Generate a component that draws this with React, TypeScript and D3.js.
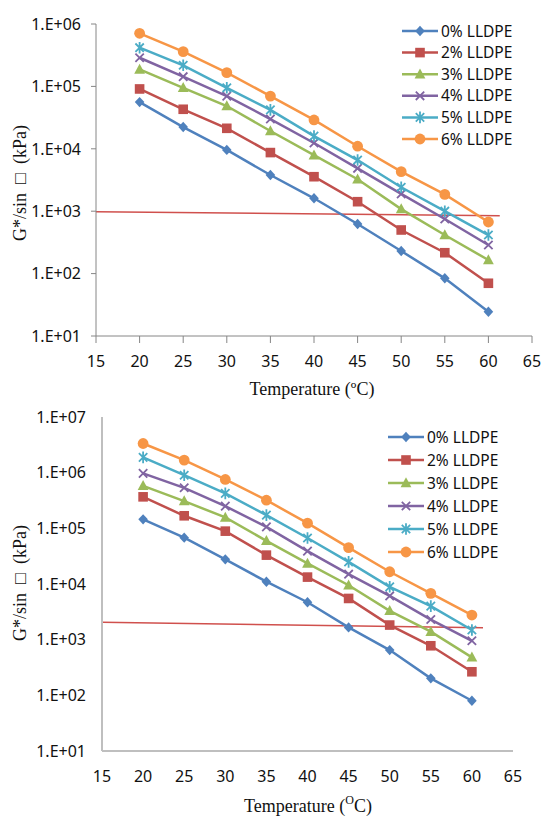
import React from "react";
import * as d3 from "d3";

// ---------- DATA ----------
const temps = [20, 25, 30, 35, 40, 45, 50, 55, 60];
const seriesNames = ["0% LLDPE", "2% LLDPE", "3% LLDPE", "4% LLDPE", "5% LLDPE", "6% LLDPE"];
const seriesColors = ["#4F81BD", "#C0504D", "#9BBB59", "#8064A2", "#4BACC6", "#F79646"];
const seriesMarkers = ["diamond", "square", "triangle", "x", "star", "circle"];

// Top chart (unaged)
const top0 = [5.6e4, 2.23e4, 9.6e3, 3.8e3, 1.61e3, 623, 230, 84, 24.5];
const top2 = [9.1e4, 4.3e4, 2.13e4, 8.7e3, 3.57e3, 1.42e3, 500, 216, 70];
const top3 = [1.87e5, 9.5e4, 4.85e4, 1.93e4, 7.9e3, 3.25e3, 1.08e3, 415, 165];
const top4 = [2.88e5, 1.43e5, 7.0e4, 3.0e4, 1.24e4, 4.87e3, 1.89e3, 750, 287];
const top5 = [4.17e5, 2.18e5, 9.5e4, 4.2e4, 1.6e4, 6.6e3, 2.42e3, 1.0e3, 415];
const top6 = [7.1e5, 3.6e5, 1.66e5, 7.0e4, 2.9e4, 1.1e4, 4.3e3, 1.86e3, 671];
const topLimitX = [15, 61.3];
const topLimitY = [982, 847];
const topYTicks = [1e1, 1e2, 1e3, 1e4, 1e5, 1e6];

// Bottom chart (aged)
const bot0 = [1.45e5, 6.8e4, 2.77e4, 1.1e4, 4.7e3, 1.66e3, 650, 202, 80];
const bot2 = [3.68e5, 1.68e5, 8.9e4, 3.3e4, 1.33e4, 5.5e3, 1.83e3, 777, 265];
const bot3 = [5.8e5, 3.08e5, 1.57e5, 5.97e4, 2.34e4, 9.5e3, 3.3e3, 1.39e3, 481];
const bot4 = [9.7e5, 5.35e5, 2.5e5, 1.06e5, 3.9e4, 1.5e4, 6.1e3, 2.3e3, 955];
const bot5 = [1.88e6, 9.0e5, 4.24e5, 1.73e5, 6.7e4, 2.5e4, 8.9e3, 4.0e3, 1.49e3];
const bot6 = [3.34e6, 1.68e6, 7.55e5, 3.2e5, 1.24e5, 4.5e4, 1.66e4, 6.8e3, 2.77e3];
const botLimitX = [15, 61.35];
const botLimitY = [2.05e3, 1.64e3];
const botYTicks = [1e1, 1e2, 1e3, 1e4, 1e5, 1e6, 1e7];

const xTicks = [15, 20, 25, 30, 35, 40, 45, 50, 55, 60, 65];

const fmtExp = (v: number) => {
  const e = Math.round(Math.log10(v));
  return `1.E+${String(e).padStart(2, "0")}`;
};

function Marker({ type, x, y, color }: { type: string; x: number; y: number; color: string }) {
  switch (type) {
    case "diamond":
      return <path d={`M${x},${y - 5.2}L${x + 4.8},${y}L${x},${y + 5.2}L${x - 4.8},${y}Z`} fill={color} />;
    case "square":
      return <rect x={x - 4.8} y={y - 4.8} width={9.6} height={9.6} fill={color} />;
    case "triangle":
      return <path d={`M${x},${y - 5.8}L${x + 5.4},${y + 4.2}L${x - 5.4},${y + 4.2}Z`} fill={color} />;
    case "x":
      return (
        <path
          d={`M${x - 4.2},${y - 4.2}L${x + 4.2},${y + 4.2}M${x - 4.2},${y + 4.2}L${x + 4.2},${y - 4.2}`}
          stroke={color}
          strokeWidth={1.8}
          fill="none"
        />
      );
    case "star":
      return (
        <path
          d={`M${x - 4.2},${y - 4.2}L${x + 4.2},${y + 4.2}M${x - 4.2},${y + 4.2}L${x + 4.2},${y - 4.2}M${x},${y - 5.8}L${x},${y + 5.8}`}
          stroke={color}
          strokeWidth={1.8}
          fill="none"
        />
      );
    default:
      return <circle cx={x} cy={y} r={5.4} fill={color} />;
  }
}

type ChartProps = {
  series: number[][];
  limitX: number[];
  limitY: number[];
  yTicks: number[];
  x0: number;
  x1: number;
  yTop: number;
  yBot: number;
  axisColor: string;
  axisWidth: number;
  showTicks: boolean;
  yLabelX: number;
  xLabelY: number;
  xTitleY: number;
  xTitleX: number;
  yTitleX: number;
  yTitleY: number;
  legendX0: number;
  legendY0: number;
  legendStep: number;
  supText: string;
  supBig: boolean;
};

function Chart(p: ChartProps) {
  const xs = d3.scaleLinear().domain([15, 65]).range([p.x0, p.x1]);
  const ys = d3
    .scaleLog()
    .domain([p.yTicks[0], p.yTicks[p.yTicks.length - 1]])
    .range([p.yBot, p.yTop]);
  const line = d3
    .line<[number, number]>()
    .x((d) => xs(d[0]))
    .y((d) => ys(d[1]));
  const tickFont = { fontFamily: "'Noto Sans', sans-serif", fontSize: 16, fill: "#111" };
  return (
    <g>
      {/* limit line */}
      <path
        d={line(p.limitX.map((x, i) => [x, p.limitY[i]] as [number, number])) || ""}
        stroke="#D0504D"
        strokeWidth={1.4}
        fill="none"
      />
      {/* axes */}
      <line x1={p.x0} x2={p.x0} y1={p.yTop} y2={p.yBot} stroke={p.axisColor} strokeWidth={p.axisWidth} />
      <line x1={p.x0} x2={p.x1} y1={p.yBot} y2={p.yBot} stroke={p.axisColor} strokeWidth={p.axisWidth} />
      {p.showTicks &&
        xTicks.map((t) => (
          <line key={"xt" + t} x1={xs(t)} x2={xs(t)} y1={p.yBot} y2={p.yBot + 7} stroke={p.axisColor} />
        ))}
      {p.showTicks &&
        p.yTicks.map((t) => (
          <line key={"yt" + t} x1={p.x0 - 5} x2={p.x0} y1={ys(t)} y2={ys(t)} stroke={p.axisColor} />
        ))}
      {xTicks.map((t) => (
        <text key={"xl" + t} x={xs(t)} y={p.xLabelY} textAnchor="middle" {...tickFont}>
          {t}
        </text>
      ))}
      {p.yTicks.map((t) => (
        <text key={"yl" + t} x={p.yLabelX} y={ys(t)} dy="0.36em" textAnchor="end" {...tickFont}>
          {fmtExp(t)}
        </text>
      ))}
      {/* series */}
      {p.series.map((vals, si) => {
        const pts = temps.map((t, i) => [t, vals[i]] as [number, number]);
        return (
          <g key={"s" + si}>
            <path d={line(pts) || ""} stroke={seriesColors[si]} strokeWidth={2.5} fill="none" />
            {pts.map((d, i) => (
              <Marker key={i} type={seriesMarkers[si]} x={xs(d[0])} y={ys(d[1])} color={seriesColors[si]} />
            ))}
          </g>
        );
      })}
      {/* legend */}
      {seriesNames.map((n, i) => {
        const y = p.legendY0 + i * p.legendStep;
        return (
          <g key={"lg" + i}>
            <line x1={p.legendX0} x2={p.legendX0 + 36} y1={y} y2={y} stroke={seriesColors[i]} strokeWidth={2.5} />
            <Marker type={seriesMarkers[i]} x={p.legendX0 + 18} y={y} color={seriesColors[i]} />
            <text
              x={p.legendX0 + 39}
              y={y}
              dy="0.36em"
              fontFamily="'Noto Sans', sans-serif"
              fontSize={15.5}
              fill="#111"
            >
              {n}
            </text>
          </g>
        );
      })}
      {/* titles */}
      <text
        x={p.xTitleX}
        y={p.xTitleY}
        textAnchor="middle"
        fontFamily="'Liberation Serif', serif"
        fontSize={18}
        fill="#111"
      >
        Temperature (
        {p.supBig ? (
          <tspan fontSize={12} dy={-8}>
            {p.supText}
          </tspan>
        ) : (
          <tspan>{p.supText}</tspan>
        )}
        {p.supBig ? <tspan dy={8}>C)</tspan> : <tspan>C)</tspan>}
      </text>
      <text
        transform={`translate(${p.yTitleX},${p.yTitleY}) rotate(-90)`}
        textAnchor="middle"
        dominantBaseline="central"
        fontFamily="'Liberation Serif', serif"
        fontSize={18}
        fill="#111"
        style={{ whiteSpace: "pre" }}
      >
        {"G*/sin \u00A0□\u00A0 (kPa)"}
      </text>
    </g>
  );
}

export default function App() {
  return (
    <svg
      width={542}
      height={817}
      style={{ position: "absolute", left: 0, top: 0, background: "#fff" }}
    >
      <rect width={542} height={817} fill="#fff" />
      <Chart
        series={[top0, top2, top3, top4, top5, top6]}
        limitX={topLimitX}
        limitY={topLimitY}
        yTicks={topYTicks}
        x0={96}
        x1={532}
        yTop={24}
        yBot={336}
        axisColor="#868686"
        axisWidth={1}
        showTicks={true}
        yLabelX={81}
        xLabelY={367}
        xTitleY={395}
        xTitleX={312}
        yTitleX={20}
        yTitleY={183}
        legendX0={402}
        legendY0={31}
        legendStep={21.6}
        supText="º"
        supBig={false}
      />
      <Chart
        series={[bot0, bot2, bot3, bot4, bot5, bot6]}
        limitX={botLimitX}
        limitY={botLimitY}
        yTicks={botYTicks}
        x0={102}
        x1={513}
        yTop={417}
        yBot={751}
        axisColor="#BFBFBF"
        axisWidth={2}
        showTicks={false}
        yLabelX={86}
        xLabelY={782}
        xTitleY={812}
        xTitleX={308}
        yTitleX={20}
        yTitleY={583}
        legendX0={388}
        legendY0={437}
        legendStep={23}
        supText="O"
        supBig={true}
      />
    </svg>
  );
}
